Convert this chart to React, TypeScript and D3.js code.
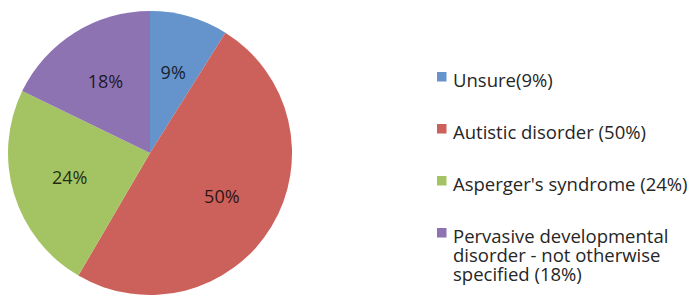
import React from 'react';
import * as d3 from 'd3';

// chart data
const categories = ['Unsure', 'Autistic disorder', "Asperger's syndrome", 'Pervasive developmental disorder - not otherwise specified'];
const percents = [9, 50, 24, 18];
const legendLines = [
  ['Unsure(9%)'],
  ['Autistic disorder (50%)'],
  ["Asperger's syndrome (24%)"],
  ['Pervasive developmental', 'disorder - not otherwise', 'specified (18%)'],
];
const colors = ['#6593cb', '#cc605a', '#a4c463', '#8e73b3'];

const W = 694;
const H = 297;

const App = () => {
  const cx = 150;
  const cy = 153;
  const radius = 142;

  const pie = d3.pie<number>().sort(null).value(d => d);
  const arcs = pie(percents);
  const arc = d3.arc<d3.PieArcDatum<number>>().innerRadius(0).outerRadius(radius);
  const labelArc = d3.arc<d3.PieArcDatum<number>>().innerRadius(84).outerRadius(84);

  // legend square centres
  const legendY = d3.scalePoint<string>().domain(categories).range([76.5, 232.5]);
  const font = "'Open Sans', sans-serif";

  return (
    <svg width={W} height={H} style={{ position: 'absolute', left: 0, top: 0 }}>
      <rect width={W} height={H} fill="#fff" />
      <g transform={`translate(${cx},${cy})`}>
        {arcs.map((a, i) => (
          <path key={i} d={arc(a) || ''} fill={colors[i]} />
        ))}
        {arcs.map((a, i) => {
          const [x, y] = labelArc.centroid(a);
          return (
            <text key={'l' + i} x={x} y={y} dy="0.35em" textAnchor="middle"
              fontFamily={font} fontSize={18} fill="#000" fillOpacity={0.8}>
              {percents[i]}%
            </text>
          );
        })}
      </g>
      <g>
        {categories.map((c, i) => {
          const y = legendY(c) as number;
          return (
            <g key={c}>
              <rect x={437} y={y - 4.5} width={9.5} height={9.5} fill={colors[i]} />
              <text x={453} y={y + 10} fontFamily={font} fontSize={18.5} fill="#262626">
                {legendLines[i].map((line, j) => (
                  <tspan key={j} x={453} dy={j === 0 ? 0 : 19}>{line}</tspan>
                ))}
              </text>
            </g>
          );
        })}
      </g>
    </svg>
  );
};

export default App;
